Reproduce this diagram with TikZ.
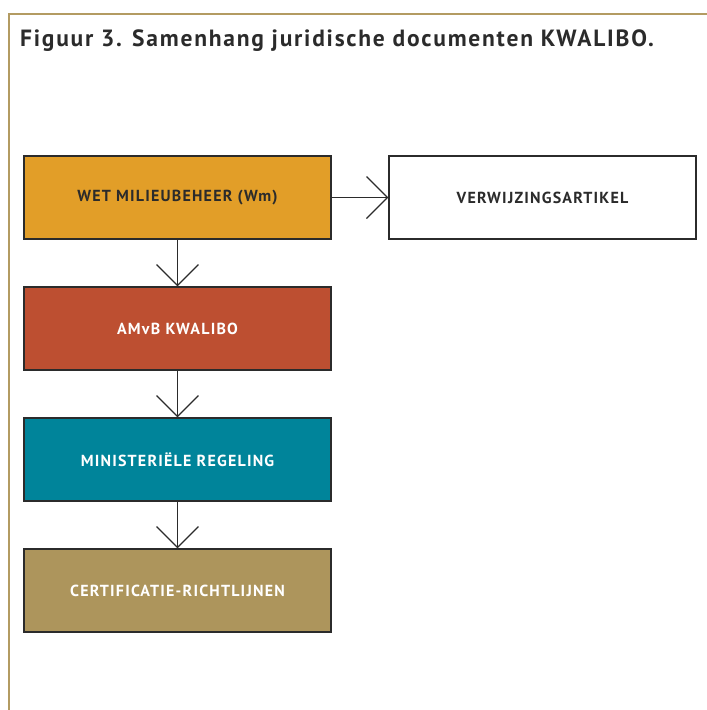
\documentclass[tikz,border=0pt]{standalone}
\usepackage{fontspec}
\setmainfont{PT Sans}
\usetikzlibrary{arrows.meta,positioning}
\definecolor{wm}{HTML}{E29E28}
\definecolor{amvb}{HTML}{BD4F31}
\definecolor{minreg}{HTML}{00849A}
\definecolor{cert}{HTML}{AD955C}
\definecolor{frame}{HTML}{B39B62}
\definecolor{ink}{HTML}{2B2B2B}

\begin{document}
\begin{tikzpicture}[
  x=1pt,y=-1pt,
  box/.style={draw=ink,line width=1.3pt,minimum width=307pt,minimum height=83pt,inner sep=0pt,align=center,
    font=\bfseries\fontsize{16}{18}\selectfont\addfontfeatures{LetterSpace=7.5}},
  link/.style={ink,line width=1.2pt,-{Straight Barb[length=21pt,width=42pt,line width=1.2pt]}},
]
  \useasboundingbox (0,0) rectangle (707,710);

  % Frame and caption
  \draw[frame,line width=2.5pt] (9,710) -- (9,14) -- (707,14);
  \node[anchor=base west,inner sep=0pt,text=ink,font=\bfseries\fontsize{23.5}{25}\selectfont\addfontfeatures{LetterSpace=7.5}] (title) at (20,46.5) {Figuur 3. Samenhang juridische documenten KWALIBO.};

  % Row 1: law + reference article
  \node[box,fill=wm,text=ink] (wet) at (177.5,197.5) {WET MILIEUBEHEER (Wm)};
  \node[box,fill=white,text=ink] (verw) at (542.5,197.5) {VERWIJZINGSARTIKEL};
  \draw[link] (wet) -- (verw);

  % Chain downwards
  \node[box,fill=amvb,text=white] (amvb) at (177.5,328.5) {AMvB KWALIBO};
  \node[box,fill=minreg,text=white] (regeling) at (177.5,459.5) {MINISTERIËLE REGELING};
  \node[box,fill=cert,text=white] (richtlijn) at (177.5,590.5) {CERTIFICATIE-RICHTLIJNEN};
  \draw[link] (wet) -- (amvb);
  \draw[link] (amvb) -- (regeling);
  \draw[link] (regeling) -- (richtlijn);
\end{tikzpicture}
\end{document}
